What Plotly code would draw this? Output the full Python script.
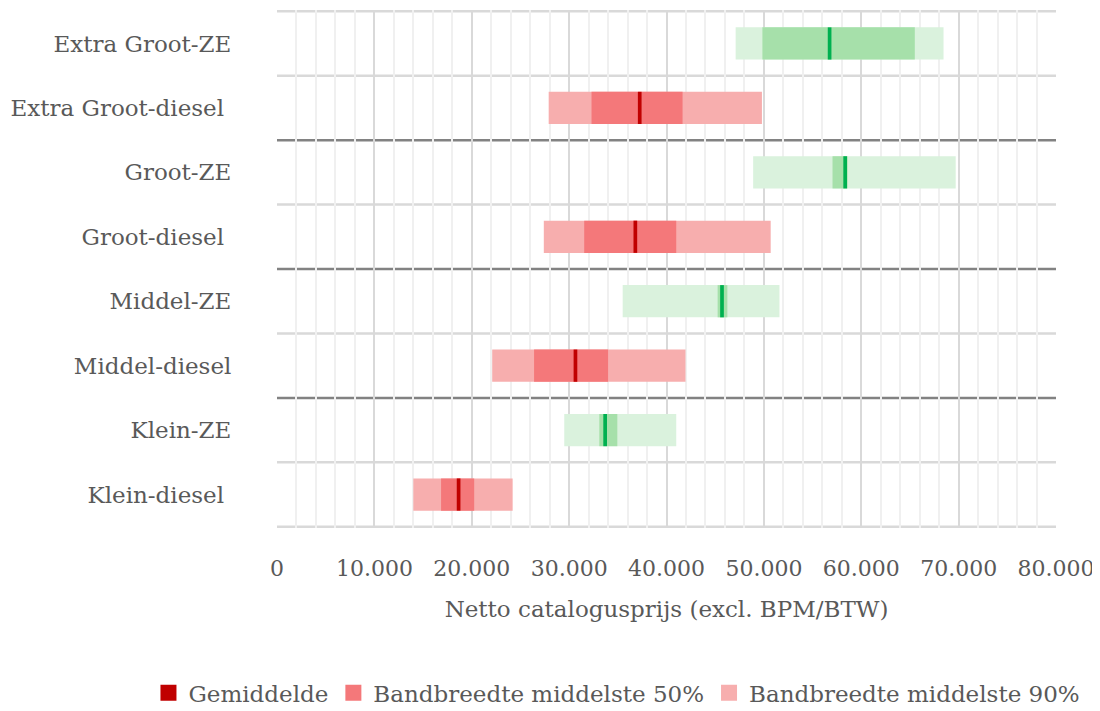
import plotly.graph_objects as go

# ---- data (top to bottom) ----
categories = ["Extra Groot-ZE", "Extra Groot-diesel\u00a0", "Groot-ZE", "Groot-diesel\u00a0",
              "Middel-ZE", "Middel-diesel", "Klein-ZE", "Klein-diesel\u00a0"]
fuel = ["ZE", "diesel", "ZE", "diesel", "ZE", "diesel", "ZE", "diesel"]
p05 = [47100, 27900, 48900, 27400, 35500, 22100, 29500, 14000]
p25 = [49850, 32300, 57050, 31550, 45250, 26400, 33100, 16850]
mean = [56750, 37250, 58350, 36800, 45700, 30650, 33700, 18650]
p75 = [65500, 41650, 58600, 41000, 46250, 34000, 34950, 20250]
p95 = [68450, 49800, 69700, 50700, 51600, 41950, 41000, 24200]

x_tick_vals = [0, 10000, 20000, 30000, 40000, 50000, 60000, 70000, 80000]
legend_names = ["Gemiddelde", "Bandbreedte middelste 50%", "Bandbreedte middelste 90%"]

# ---- style ----
COL = {
    "diesel": {"mean": "#C00000", "p50": "#F4787A", "p90": "#F7AEAE"},
    "ZE": {"mean": "#00B050", "p50": "#A6E0AA", "p90": "#DAF2DD"},
}
MEAN_W = 380
BAR_W = 0.5
FONT = "DejaVu Serif"
TXT = "#595959"

fig = go.Figure()

for f in ["diesel", "ZE"]:
    idx = [i for i, v in enumerate(fuel) if v == f]
    cats = [categories[i] for i in idx]
    fig.add_trace(go.Bar(
        y=cats, x=[p95[i] - p05[i] for i in idx], base=[p05[i] for i in idx],
        orientation="h", width=BAR_W, marker=dict(color=COL[f]["p90"], line_width=0),
        name=legend_names[2], showlegend=False))
    fig.add_trace(go.Bar(
        y=cats, x=[p75[i] - p25[i] for i in idx], base=[p25[i] for i in idx],
        orientation="h", width=BAR_W, marker=dict(color=COL[f]["p50"], line_width=0),
        name=legend_names[1], showlegend=False))
    fig.add_trace(go.Bar(
        y=cats, x=[MEAN_W] * len(idx), base=[mean[i] - MEAN_W / 2 for i in idx],
        orientation="h", width=BAR_W, marker=dict(color=COL[f]["mean"], line_width=0),
        name=legend_names[0], showlegend=False))

# legend entries (square swatches)
for name, key in zip(legend_names, ["mean", "p50", "p90"]):
    fig.add_trace(go.Scatter(
        x=[None], y=[None], mode="markers", name=name,
        marker=dict(symbol="square", size=16, color=COL["diesel"][key]),
        showlegend=True))

# category boundary lines
shapes = []
n = len(categories)
for k in range(n + 1):
    pos = k - 0.5
    dark = k in (2, 4, 6)
    shapes.append(dict(type="line", xref="paper", yref="y", x0=0, x1=1, y0=pos, y1=pos,
                       line=dict(color="#828282" if dark else "#D9D9D9", width=2.5),
                       layer="between"))

fig.update_layout(
    width=1100, height=711,
    margin=dict(l=269, r=52, t=2, b=191),
    paper_bgcolor="white", plot_bgcolor="white",
    barmode="overlay",
    separators=",.",
    font=dict(family=FONT, color=TXT, size=20),
    shapes=shapes,
    legend=dict(orientation="h", x=-0.165, xanchor="left", y=-0.318, yanchor="middle",
                yref="paper", font=dict(size=23, family=FONT, color=TXT),
                itemwidth=30, traceorder="normal"),
    xaxis=dict(range=[0, 80000], tickvals=x_tick_vals, tickformat=",d",
               showgrid=True, gridcolor="#D9D9D9", gridwidth=2,
               minor=dict(dtick=2000, showgrid=True, gridcolor="#F0F0F0", gridwidth=2),
               zeroline=False, showline=False,
               ticks="outside", ticklen=21, tickcolor="rgba(0,0,0,0)",
               tickfont=dict(size=22, family=FONT, color=TXT),
               title=dict(text="Netto catalogusprijs (excl. BPM/BTW)", standoff=20,
                          font=dict(size=23, family=FONT, color=TXT))),
    yaxis=dict(categoryorder="array", categoryarray=categories, autorange="reversed",
               showgrid=False, zeroline=False, showline=False,
               ticks="outside", ticklen=40, tickcolor="rgba(0,0,0,0)",
               tickfont=dict(size=23, family=FONT, color=TXT)),
)

fig.write_html("out.html")
